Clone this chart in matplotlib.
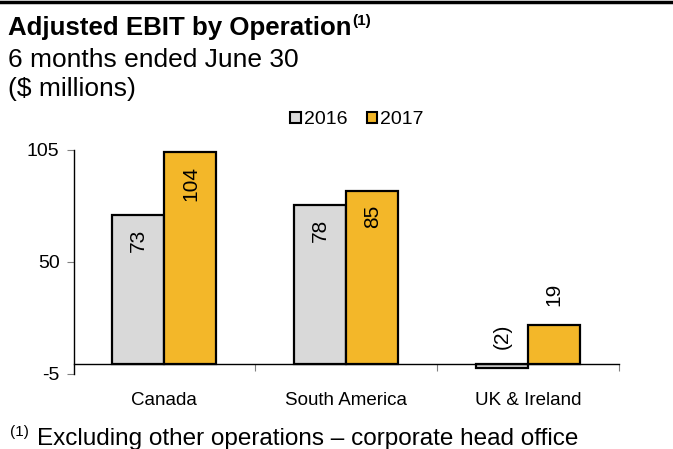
import matplotlib
matplotlib.use("Agg")
import matplotlib.pyplot as plt
import numpy as np
from matplotlib.patches import Patch
from matplotlib.lines import Line2D

plt.rcParams['font.family'] = ['Liberation Sans', 'DejaVu Sans']

categories = ["Canada", "South America", "UK & Ireland"]
series_names = ["2016", "2017"]
values_2016 = [73, 78, -2]
values_2017 = [104, 85, 19]
labels_2016 = ["73", "78", "(2)"]
labels_2017 = ["104", "85", "19"]
yticks = [-5, 50, 105]

c2016 = "#D9D9D9"
c2017 = "#F3B729"

fig = plt.figure(figsize=(6.73, 4.49), dpi=100)
ax = fig.add_axes([73.5/673, 1-374/449, (619-73.5)/673, (374-150)/449])

x = np.arange(len(categories))
w = 0.286
b1 = ax.bar(x - w/2, values_2016, w, color=c2016, edgecolor="black", linewidth=1.6, zorder=3)
b2 = ax.bar(x + w/2, values_2017, w, color=c2017, edgecolor="black", linewidth=1.6, zorder=3)

ax.set_xlim(-0.5, 2.5)
ax.set_ylim(-5, 105)
ax.set_yticks(yticks)
ax.set_yticklabels([str(t) for t in yticks], fontsize=14)
ax.tick_params(axis='y', length=5, color="#808080", pad=5, width=0.8)

ax.spines['top'].set_visible(False)
ax.spines['right'].set_visible(False)
ax.spines['left'].set_linewidth(1.0)
ax.spines['bottom'].set_position(('data', 0))
ax.spines['bottom'].set_linewidth(1.0)
ax.spines['bottom'].set_zorder(4)

ax.set_xticks([0.5, 1.5, 2.5])
ax.set_xticklabels([])
ax.tick_params(axis='x', which='major', length=5, direction='out', width=0.8,
               color="#808080")
ax.set_xticks(x, minor=True)
ax.set_xticklabels(categories, minor=True, fontsize=13.5)
ax.tick_params(axis='x', which='minor', length=0, pad=20.5)

def label_bars(bars, vals, labs):
    for bar, v, lab in zip(bars, vals, labs):
        cx = bar.get_x() + bar.get_width()/2
        if v > 30:
            ax.annotate(lab, (cx, v), xytext=(0, -10), textcoords="offset points",
                        rotation=90, ha="center", va="top", fontsize=15, zorder=5)
        elif v >= 0:
            ax.annotate(lab, (cx, v), xytext=(0, 14), textcoords="offset points",
                        rotation=90, ha="center", va="bottom", fontsize=15, zorder=5)
        else:
            ax.annotate(lab, (cx, 0), xytext=(0, 11), textcoords="offset points",
                        rotation=90, ha="center", va="bottom", fontsize=15, zorder=5)

label_bars(b1, values_2016, labels_2016)
label_bars(b2, values_2017, labels_2017)

handles = [Patch(facecolor=c2016, edgecolor="black", linewidth=1.5),
           Patch(facecolor=c2017, edgecolor="black", linewidth=1.5)]
fig.legend(handles, series_names, loc="center", bbox_to_anchor=(357/673, 1-120/449),
           ncol=2, frameon=False, fontsize=14, handlelength=0.55, handleheight=0.55,
           handletextpad=0.15, columnspacing=1.0, borderpad=0)

# top rule
fig.add_artist(Line2D([0, 1], [1-2/449, 1-2/449], color="black", linewidth=2.5,
                      transform=fig.transFigure))

t = fig.text(8/673, 1-28/449, "Adjusted EBIT by Operation", fontsize=18.6, fontweight="bold",
             va="center", ha="left")
fig.canvas.draw()
bb = t.get_window_extent(renderer=fig.canvas.get_renderer())
fig.text(bb.x1/fig.bbox.width + 1/673, 1-21/449, "(1)", fontsize=11, fontweight="bold",
         va="center", ha="left")
fig.text(8/673, 1-60/449, "6 months ended June 30", fontsize=19, va="center", ha="left")
fig.text(8/673, 1-89/449, "($ millions)", fontsize=19, va="center", ha="left")

fig.text(10/673, 1-432/449, "(1)", fontsize=11, va="center", ha="left")
fig.text(37/673, 1-439/449, "Excluding other operations – corporate head office",
         fontsize=17.5, va="center", ha="left")

fig.savefig("out.png", dpi=100)
